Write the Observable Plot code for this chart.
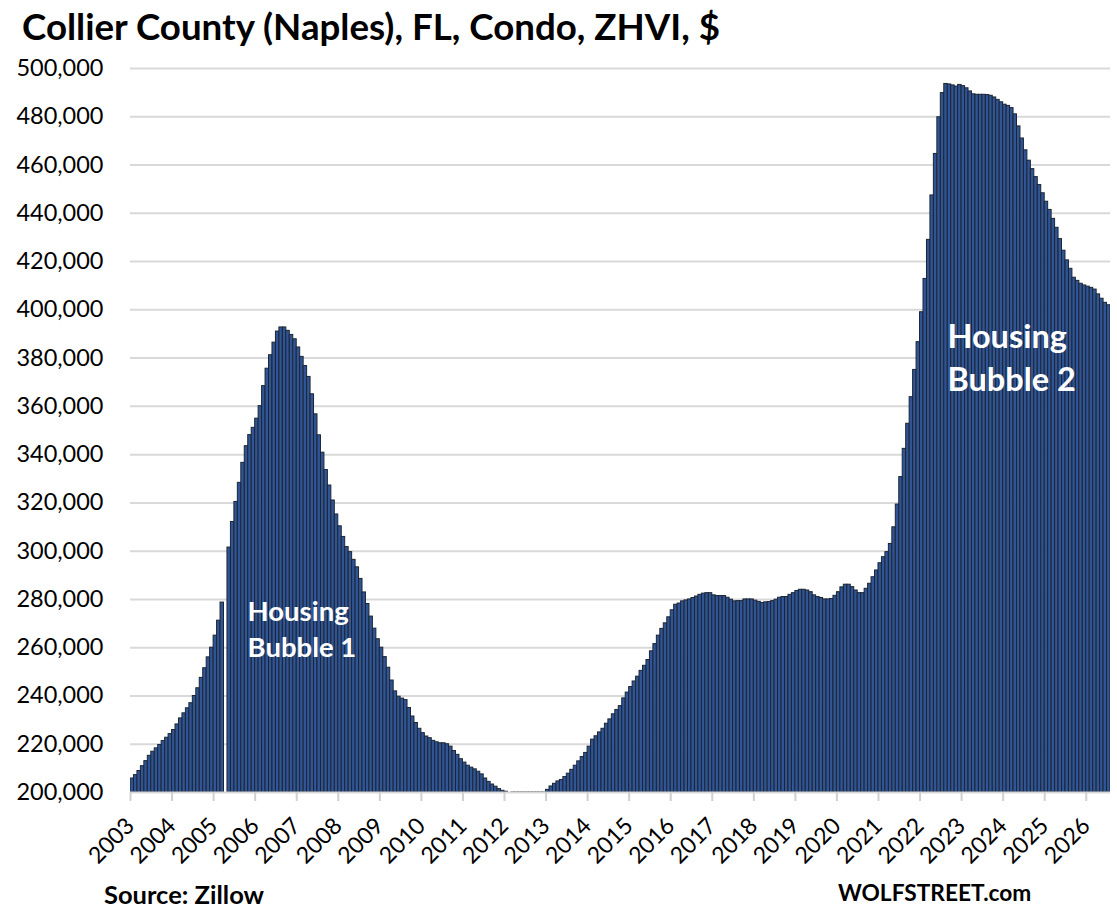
<!DOCTYPE html>
<html><head><meta charset="utf-8">
<script src="https://cdn.jsdelivr.net/npm/d3@7"></script>
<script src="https://cdn.jsdelivr.net/npm/@observablehq/plot@0.6"></script>
<style>
body{margin:0;background:#fff;}
#wrap{position:relative;width:1117px;height:911px;font-family:Lato,sans-serif;overflow:hidden;}
#wrap svg{position:absolute;left:0;top:0;}
.t{position:absolute;white-space:nowrap;font-weight:700;color:#000;line-height:1.2;z-index:2;}
</style></head><body>
<div id="wrap">
<div class="t" style="left:22px;top:4px;font-size:36.7px">Collier County (Naples), FL, Condo, ZHVI, $</div>
<div class="t" style="left:104px;top:879px;font-size:25.5px">Source: Zillow</div>
<div class="t" style="left:838px;top:879px;font-size:22.7px">WOLFSTREET.com</div>
</div>
<script>
// Monthly ZHVI values ($), Jan..Dec of each year (null = missing month)
const y2003 = [205800, 207200, 208900, 210900, 213000, 215200, 216900, 218300, 219700, 221300, 222700, 224200];
const y2004 = [225900, 228200, 230700, 232800, 234900, 237000, 240000, 243200, 247500, 251500, 256000, 260000];
const y2005 = [265000, 271200, 278700, null, 301500, 312100, 320400, 328300, 336600, 343500, 348100, 351100];
const y2006 = [354900, 360100, 368400, 375600, 381200, 386400, 391000, 392700, 392700, 391300, 389600, 387800];
const y2007 = [384400, 380500, 376700, 372200, 365000, 356700, 348000, 340800, 333600, 327200, 321000, 315200];
const y2008 = [310300, 305900, 301700, 299600, 296400, 293300, 288500, 282900, 278100, 272900, 267900, 263500];
const y2009 = [260000, 256100, 251700, 246400, 241900, 239700, 238900, 238300, 235000, 231500, 228800, 226400];
const y2010 = [224600, 223200, 222500, 221400, 220800, 220400, 220400, 220000, 219000, 217200, 215600, 213800];
const y2011 = [212400, 211100, 210300, 209600, 208600, 207500, 205800, 204400, 203300, 202400, 201400, 200700];
const y2012 = [200300, 200000, 199600, 199100, 198600, 198200, 198000, 198000, 198300, 198800, 199400, 199800];
const y2013 = [201100, 202500, 203600, 204600, 205200, 206400, 207800, 209400, 211100, 212900, 214700, 216400];
const y2014 = [219000, 221900, 223300, 224900, 226400, 228500, 230300, 232400, 234200, 235800, 239000, 241400];
const y2015 = [243700, 246000, 248000, 250400, 252500, 254900, 258500, 261500, 265000, 267800, 270100, 272600];
const y2016 = [275500, 277800, 278300, 279200, 279600, 280000, 280600, 281200, 281900, 282400, 282600, 282600];
const y2017 = [281700, 281400, 281400, 281400, 280700, 279900, 279200, 279300, 279300, 280000, 280000, 280000];
const y2018 = [279500, 279000, 278500, 278800, 278900, 279300, 279900, 280700, 281000, 281000, 281900, 282600];
const y2019 = [283500, 284000, 284000, 283700, 283000, 281700, 281000, 280600, 280000, 280000, 280200, 281500];
const y2020 = [283000, 285000, 286100, 286100, 285100, 283700, 282600, 282600, 284400, 286500, 289200, 292000];
const y2021 = [295000, 297500, 299600, 303000, 309900, 319300, 330700, 342400, 352800, 363800, 375100, 386600];
const y2022 = [399000, 412800, 429000, 447400, 464600, 479800, 489800, 493600, 493400, 493000, 492500, 493200];
const y2023 = [492700, 491800, 490500, 489300, 489100, 489100, 489100, 489000, 488700, 488000, 487000, 486000];
const y2024 = [485000, 484500, 483600, 481000, 476000, 471000, 466100, 461800, 458300, 455000, 451700, 448300];
const y2025 = [444800, 441400, 437700, 434000, 429300, 424500, 420500, 417000, 413300, 412000, 410800, 410100];
const y2026 = [409600, 409100, 408400, 406400, 404600, 402900, 401900];

const yearLabels = ["2003","2004","2005","2006","2007","2008","2009","2010","2011","2012","2013","2014","2015","2016","2017","2018","2019","2020","2021","2022","2023","2024","2025","2026"];
const yTicks = [200000, 220000, 240000, 260000, 280000, 300000, 320000, 340000, 360000, 380000, 400000, 420000, 440000, 460000, 480000, 500000];
const note1 = [{label: "Housing\nBubble 1", month: 33.8, value: 268500}];
const note2 = [{label: "Housing\nBubble 2", month: 235.9, value: 381000}];

const series = [y2003,y2004,y2005,y2006,y2007,y2008,y2009,y2010,y2011,y2012,y2013,y2014,y2015,y2016,y2017,y2018,y2019,y2020,y2021,y2022,y2023,y2024,y2025,y2026];
const data = series.flatMap((arr, k) => arr.map((v, j) => ({i: k * 12 + j, value: v})));
const nMonths = data.length;
const tickPos = yearLabels.map((_, k) => k * 12);

const chart = Plot.plot({
  width: 1117, height: 911,
  marginLeft: 130, marginRight: 7, marginTop: 68, marginBottom: 119,
  style: {fontFamily: "Lato, sans-serif", color: "#000", background: "transparent", overflow: "visible"},
  x: {type: "linear", domain: [0, nMonths], axis: null},
  y: {domain: [200000, 500000], axis: null},
  marks: [
    Plot.gridY(yTicks.slice(1), {stroke: "#d9d9d9", strokeOpacity: 1, strokeWidth: 2}),
    Plot.rect(data, {x1: "i", x2: d => d.i + 1, y1: 200000, y2: "value", fill: "#2F5597", stroke: "#1c2533", strokeWidth: 1, clip: true}),
    Plot.ruleY([200000], {stroke: "#d9d9d9", strokeWidth: 2}),
    Plot.axisY(yTicks, {tickSize: 0, tickPadding: 27, tickFormat: d3.format(","), fontSize: 23.5, fill: "#000", label: null}),
    Plot.axisX(tickPos, {tickSize: 9, tickFormat: () => "", stroke: "#d0d0d0", strokeWidth: 2, label: null}),
    Plot.axisX(tickPos, {tickSize: 0, tickPadding: 29.5, tickRotate: -45, tickFormat: (d, k) => yearLabels[k], fontSize: 23, fill: "#000", label: null}),
    Plot.text(note1, {x: "month", y: "value", text: "label", fill: "white", fontWeight: "bold", fontSize: 27.5, textAnchor: "start", lineAnchor: "middle", lineHeight: 1.32}),
    Plot.text(note2, {x: "month", y: "value", text: "label", fill: "white", fontWeight: "bold", fontSize: 32.5, textAnchor: "start", lineAnchor: "middle", lineHeight: 1.33})
  ]
});
document.getElementById("wrap").prepend(chart);
</script>
</body></html>
